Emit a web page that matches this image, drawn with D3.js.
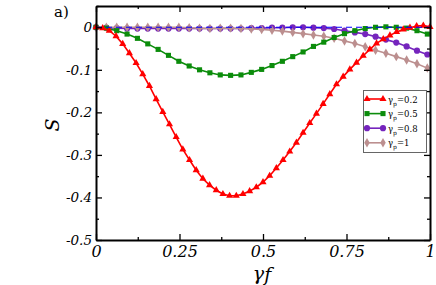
<!DOCTYPE html>
<html>
<head>
<meta charset="utf-8">
<script src="https://cdn.jsdelivr.net/npm/d3@7"></script>
<style>
  body { margin: 0; background: #fff; }
  svg text { font-family: "DejaVu Serif", "Liberation Serif", serif; }
</style>
</head>
<body>
<script>
// gamma_p = 0.2 sampled every 0.02
var xRed = [0, 0.02, 0.04, 0.06, 0.08, 0.10, 0.12, 0.14, 0.16, 0.18,
            0.20, 0.22, 0.24, 0.26, 0.28, 0.30, 0.32, 0.34, 0.36, 0.38,
            0.40, 0.42, 0.44, 0.46, 0.48, 0.50, 0.52, 0.54, 0.56, 0.58,
            0.60, 0.62, 0.64, 0.66, 0.68, 0.70, 0.72, 0.74, 0.76, 0.78,
            0.80, 0.82, 0.84, 0.86, 0.88, 0.90, 0.92, 0.94, 0.96, 0.98, 1.00];
var sRed = [0, -0.002, -0.008, -0.021, -0.039, -0.061, -0.084, -0.110, -0.138, -0.169,
            -0.199, -0.228, -0.258, -0.287, -0.312, -0.336, -0.356, -0.371, -0.383, -0.392,
            -0.396, -0.396, -0.392, -0.385, -0.376, -0.364, -0.349, -0.331, -0.312, -0.292,
            -0.271, -0.248, -0.225, -0.203, -0.180, -0.157, -0.134, -0.116, -0.099, -0.083,
            -0.067, -0.052, -0.038, -0.028, -0.019, -0.011, -0.005, -0.001, 0.003, 0.004, 0.001];

// the other three share a coarser grid
var xGrid = [0, 0.031, 0.062, 0.093, 0.124, 0.155, 0.186, 0.217, 0.248, 0.279,
             0.310, 0.341, 0.372, 0.403, 0.434, 0.465, 0.496, 0.527, 0.558, 0.589,
             0.620, 0.651, 0.682, 0.713, 0.744, 0.775, 0.806, 0.837, 0.868, 0.899,
             0.930, 0.961, 0.992];
var sGreen = [0, -0.002, -0.008, -0.016, -0.026, -0.039, -0.052, -0.066, -0.080, -0.091,
              -0.100, -0.107, -0.112, -0.113, -0.112, -0.106, -0.099, -0.090, -0.080, -0.069,
              -0.058, -0.045, -0.035, -0.024, -0.015, -0.008, -0.003, 0.000, 0.001, 0.000,
              -0.002, -0.008, -0.016];
var sPurple = [0, -0.001, -0.002, -0.003, -0.003, -0.003, -0.003, -0.003, -0.003, -0.003,
               -0.003, -0.003, -0.003, -0.003, -0.003, -0.002, -0.002, -0.001, -0.001, 0.000,
               0.000, -0.001, -0.002, -0.004, -0.008, -0.012, -0.016, -0.022, -0.029, -0.036,
               -0.045, -0.055, -0.064];
var sPink = [0, 0, 0, 0, 0, 0, 0, 0, 0, -0.001,
             -0.002, -0.003, -0.002, -0.002, -0.003, -0.004, -0.005, -0.007, -0.009, -0.012,
             -0.015, -0.018, -0.021, -0.026, -0.032, -0.038, -0.046, -0.054, -0.061, -0.069,
             -0.077, -0.086, -0.096];

var legendLabels = ["0.2", "0.5", "0.8", "1"];
var xTicks = [0, 0.25, 0.5, 0.75, 1];
var yTicks = [0, -0.1, -0.2, -0.3, -0.4, -0.5];

var width = 436, height = 285;
var margin = {top: 6, right: 6, bottom: 45, left: 96};

var svg = d3.select("body").append("svg")
    .attr("width", width)
    .attr("height", height);

var x = d3.scaleLinear().domain([0, 1]).range([margin.left, width - margin.right]);
var y = d3.scaleLinear().domain([-0.5, 0.05]).range([height - margin.bottom, margin.top]);

var series = [
  {name: "purple", xs: xGrid, ys: sPurple, color: "#7524bd", sym: d3.symbolCircle, size: 30},
  {name: "pink", xs: xGrid, ys: sPink, color: "#bc8f8f", sym: d3.symbolDiamond, size: 26},
  {name: "green", xs: xGrid, ys: sGreen, color: "#0b8c0b", sym: d3.symbolSquare, size: 26},
  {name: "red", xs: xRed, ys: sRed, color: "#ff0000", sym: d3.symbolTriangle, size: 22}
];

var line = d3.line()
    .x(function(d) { return x(d[0]); })
    .y(function(d) { return y(d[1]); });

series.forEach(function(s) {
  var pts = s.xs.map(function(v, i) { return [v, s.ys[i]]; });
  svg.append("path")
    .attr("d", line(pts))
    .attr("fill", "none")
    .attr("stroke", s.color)
    .attr("stroke-width", 1.6);
  svg.append("g").selectAll("path")
    .data(pts)
    .enter().append("path")
    .attr("transform", function(d) { return "translate(" + x(d[0]) + "," + y(d[1]) + ")"; })
    .attr("d", d3.symbol().type(s.sym).size(s.size))
    .attr("fill", s.color);
});

// zero reference line
svg.append("line")
    .attr("x1", x(0)).attr("x2", x(1))
    .attr("y1", y(0)).attr("y2", y(0))
    .attr("stroke", "#0000ff")
    .attr("stroke-width", 1.2)
    .attr("stroke-dasharray", "6,4");

// axes, ticks pointing inward on all four sides
var xMinor = [0.125, 0.375, 0.625, 0.875];
var yMinor = [0.05, -0.05, -0.15, -0.25, -0.35, -0.45];

function styleAxis(g) {
  g.attr("font-family", null);
  g.selectAll(".domain").attr("stroke", "#000").attr("stroke-width", 2);
  g.selectAll(".tick line").attr("stroke", "#000").attr("stroke-width", 1.3);
}

svg.append("g")
    .attr("transform", "translate(0," + y.range()[0] + ")")
    .call(d3.axisBottom(x).tickValues(xTicks).tickSize(-6).tickSizeOuter(0).tickPadding(6)
      .tickFormat(function(d) { return String(d); }))
    .call(styleAxis)
    .call(function(g) {
      g.selectAll("text").attr("fill", "#000").attr("font-size", 16)
        .attr("font-style", "italic");
    });

svg.append("g")
    .attr("transform", "translate(0," + y.range()[0] + ")")
    .call(d3.axisBottom(x).tickValues(xMinor).tickSize(-3).tickFormat(""))
    .call(styleAxis).call(function(g) { g.select(".domain").remove(); });

svg.append("g")
    .attr("transform", "translate(0," + y.range()[1] + ")")
    .call(d3.axisTop(x).tickValues(xTicks).tickSize(-6).tickSizeOuter(0).tickFormat(""))
    .call(styleAxis);

svg.append("g")
    .attr("transform", "translate(0," + y.range()[1] + ")")
    .call(d3.axisTop(x).tickValues(xMinor).tickSize(-3).tickFormat(""))
    .call(styleAxis).call(function(g) { g.select(".domain").remove(); });

svg.append("g")
    .attr("transform", "translate(" + x.range()[0] + ",0)")
    .call(d3.axisLeft(y).tickValues(yTicks).tickSize(-6).tickSizeOuter(0).tickPadding(4)
      .tickFormat(function(d) { return d === 0 ? "0" : String(d); }))
    .call(styleAxis)
    .call(function(g) {
      g.selectAll("text").attr("fill", "#000").attr("font-size", 13.5)
        .attr("font-style", "italic");
    });

svg.append("g")
    .attr("transform", "translate(" + x.range()[0] + ",0)")
    .call(d3.axisLeft(y).tickValues(yMinor).tickSize(-3).tickFormat(""))
    .call(styleAxis).call(function(g) { g.select(".domain").remove(); });

svg.append("g")
    .attr("transform", "translate(" + x.range()[1] + ",0)")
    .call(d3.axisRight(y).tickValues(yTicks).tickSize(-6).tickSizeOuter(0).tickFormat(""))
    .call(styleAxis);

svg.append("g")
    .attr("transform", "translate(" + x.range()[1] + ",0)")
    .call(d3.axisRight(y).tickValues(yMinor).tickSize(-3).tickFormat(""))
    .call(styleAxis).call(function(g) { g.select(".domain").remove(); });

// axis titles
var xt = svg.append("text")
    .attr("x", 262).attr("y", 280)
    .attr("text-anchor", "middle")
    .attr("font-size", 19);
xt.append("tspan").attr("font-style", "italic").text("\u03b3");
xt.append("tspan").attr("font-style", "italic").attr("dy", 1).text("f");

svg.append("text")
    .attr("transform", "translate(59,125) rotate(-90)")
    .attr("text-anchor", "middle")
    .attr("font-size", 19)
    .attr("font-style", "italic")
    .text("S");

svg.append("text")
    .attr("x", 54).attr("y", 17)
    .attr("font-size", 15)
    .text("a)");

// legend
var lg = svg.append("g");
lg.append("rect")
    .attr("x", 363.5).attr("y", 90.5)
    .attr("width", 63).attr("height", 62)
    .attr("fill", "#fff")
    .attr("stroke", "#666")
    .attr("stroke-width", 1);

var legendOrder = [series[3], series[2], series[0], series[1]];
legendOrder.forEach(function(s, i) {
  var ly = 99 + i * 14.6;
  lg.append("line")
    .attr("x1", 367).attr("x2", 383)
    .attr("y1", ly).attr("y2", ly)
    .attr("stroke", s.color).attr("stroke-width", 1.6);
  [367, 383].forEach(function(px) {
    lg.append("path")
      .attr("transform", "translate(" + px + "," + ly + ")")
      .attr("d", d3.symbol().type(s.sym).size(s.size))
      .attr("fill", s.color);
  });
  var t = lg.append("text")
    .attr("x", 388).attr("y", ly + 3.5)
    .attr("font-size", 8.5);
  t.append("tspan").text("\u03b3");
  t.append("tspan").attr("font-size", 6).attr("dy", 3).text("p");
  t.append("tspan").attr("dy", -3).text("=" + legendLabels[i]);
});
</script>
</body>
</html>
